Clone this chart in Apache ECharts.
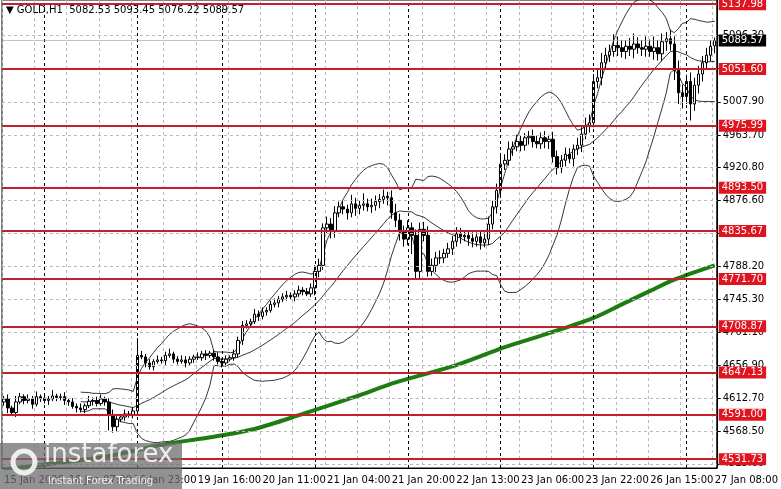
<!DOCTYPE html><html><head><meta charset="utf-8">
<script src="https://cdn.jsdelivr.net/npm/echarts@6/dist/echarts.min.js"></script>
<style>html,body{margin:0;padding:0;background:#fff}#c{width:781px;height:489px}</style></head><body><div id="c"></div><script>
const xLabels={0:'15 Jan 2026',16:'16 Jan 07:00',32:'16 Jan 23:00',48:'19 Jan 16:00',64:'20 Jan 11:00',80:'21 Jan 04:00',96:'21 Jan 20:00',112:'22 Jan 13:00',128:'23 Jan 06:00',144:'23 Jan 22:00',160:'26 Jan 15:00',176:'27 Jan 08:00'};
const closes=[4612,4600,4594,4608,4615,4610,4612,4605,4615,4613,
4610,4612,4616,4614,4615,4610,4608,4602,4600,4598,4603,4609,4610,4606,4612,4608,
4590,4575,4585,4588,4592,4590,4596,
4670,
4668,4660,4655,4662,4664,4663,4670,4672,4665,4662,4664,4660,4665,4668,4667,4672,4670,4673,4668,4662,
4660,4665,4667,4672,4690,4710,
4712,4715,4725,4722,4728,4730,4738,4740,4745,4748,
4750,4748,4752,4757,4755,4752,4760,
4782,4790,4840,4845,4835,4860,
4868,4865,4860,4872,4866,4870,4872,4868,4870,4875,4878,4882,4880,4860,
4850,4835,4825,4840,4830,4782,4838,
4830,4782,4790,4800,4800,4806,4812,
4822,4832,4828,4830,4826,4822,4828,4820,4825,4845,4868,4890,
4925,4930,4945,4948,4955,4950,4960,4962,4955,4952,4960,4955,4958,
4935,4920,4930,4938,4932,4945,4950,4965,4975,4980,
5035,
5040,5060,5070,5075,5083,5080,5075,5082,5078,5085,5080,5078,5082,5075,5080,5072,5088,5092,5085,
5050,5020,5015,5035,5005,5030,5045,5060,5070,5082,5089.57];
const firstOpen=4608;
const wickUp=[4,6,3,8,5,3,6,4,7,3,5,4,8,3,4,6,3,5,4,6,3,7,4,5,6,3,5,8,4,3,6,4,5,23,6,4,5,3,6,4,5,7,3,4,6,5,4,3,6,4,5,3,4,6,4,5,3,6,5,6,5,4,7,5,6,4,5,6,4,5,6,4,5,6,4,5,6,8,9,6,10,8,9,7,8,6,12,8,6,14,7,9,8,7,9,6,10,12,9,8,10,7,8,9,10,12,9,8,10,6,8,7,9,8,6,7,8,6,7,9,10,8,9,12,8,10,7,9,8,6,7,9,8,7,9,6,10,8,7,9,8,6,10,9,12,11,10,12,13,10,9,15,12,10,8,11,14,9,10,13,9,15,10,11,9,12,10,13,11,9,12,10,11,9,10,8,3.9];
const wickDn=[5,7,4,6,3,5,4,6,3,5,4,6,3,5,4,6,5,3,6,4,5,3,6,4,3,5,20,8,6,4,5,3,4,6,3,6,4,5,3,4,6,3,5,4,3,6,4,5,3,4,6,3,5,4,6,5,3,4,5,6,4,5,3,6,4,5,3,4,6,4,5,3,6,4,5,3,4,10,8,6,7,9,8,6,7,9,6,10,8,7,6,8,7,9,6,10,8,9,12,10,8,25,9,10,8,7,6,9,8,7,6,8,7,9,6,10,8,7,9,6,8,7,9,10,8,7,9,6,8,7,9,8,6,7,9,10,8,9,7,8,6,10,8,9,7,8,6,9,10,8,9,7,11,8,10,9,12,8,9,10,7,11,9,10,12,9,13,15,16,10,22,9,11,10,9,8,10,13.35];
const maPts=[[0,4518],[12,4526],[25,4535],[40,4552],[50,4560],[62,4572],[74,4592],[87,4615],[97,4634],[112,4657],[124,4681],[134,4698],[146,4720],[153,4738],[160,4756],[166,4771],[176,4790]];
const levels=[5137.98,5051.60,4975.99,4893.50,4835.67,4771.70,4708.87,4647.13,4591.00,4531.73];
const yTicks=[4525.60,4568.50,4612.70,4656.90,4701.10,4745.30,4788.20,4832.40,4876.60,4920.80,4963.70,5007.90,5052.10,5096.30];
const daySeps=[10,33,54,77,100,123,146,169];
const lastPrice=5089.57;

const cats=closes.map((_,i)=>i);
const ohlc=closes.map((c,i)=>{const o=i===0?firstOpen:(i===176?5082.53:closes[i-1]);return [o,c,Math.min(o,c)-wickDn[i],Math.max(o,c)+wickUp[i]];});
function bb(k){return closes.map((_,i)=>{if(i<19)return '-';const s=closes.slice(i-19,i+1);const m=s.reduce((a,b)=>a+b)/20;const sd=Math.sqrt(s.reduce((a,b)=>a+(b-m)*(b-m),0)/20);return +(m+k*sd).toFixed(2);});}
const chart=echarts.init(document.getElementById('c'),null,{renderer:'canvas'});
const lineS=(d)=>({type:'line',data:d,symbol:'none',lineStyle:{color:'#000',width:0.8},silent:true,z:2});
chart.setOption({animation:false,
grid:{left:2,right:46,top:0,bottom:21,show:true,borderColor:'#000',borderWidth:1},
xAxis:{type:'category',data:cats,boundaryGap:true,axisLine:{lineStyle:{color:'#000'}},axisTick:{show:false},
 axisLabel:{interval:(i)=>i%16===0,formatter:(v)=>xLabels[v]||'',align:'left',fontFamily:'DejaVu Sans',fontSize:10,color:'#000',margin:7},
 splitLine:{show:true,interval:(i)=>i%8===0,lineStyle:{color:'#bbb',type:[3,3],width:1}}},
yAxis:{type:'value',position:'right',min:4520,max:5143.6,axisLine:{show:true,lineStyle:{color:'#000'}},
 axisTick:{show:true,customValues:yTicks,length:4,lineStyle:{color:'#000'}},
 axisLabel:{customValues:yTicks,formatter:(v)=>v.toFixed(2),fontFamily:'DejaVu Sans',fontSize:10,color:'#000',margin:6},
 splitLine:{show:false}},
series:[
 {type:'line',data:[],markLine:{silent:true,symbol:'none',label:{show:false},lineStyle:{color:'#bbb',type:[3,3],width:1},data:yTicks.map(v=>({yAxis:v}))}},
 {type:'line',data:[],markLine:{silent:true,symbol:'none',label:{show:false},lineStyle:{color:'#000',type:[3,3],width:1},data:daySeps.map(v=>({xAxis:v}))}},
 lineS(bb(2)),lineS(bb(0)),lineS(bb(-2)),
 {type:'line',data:maPts,symbol:'none',smooth:0.3,lineStyle:{color:'#1e7d12',width:4},z:3},
 {type:'candlestick',data:ohlc,barWidth:3,z:4,itemStyle:{color:'#fff',color0:'#000',borderColor:'#000',borderColor0:'#000',borderWidth:1}},
 {type:'line',data:[],z:5,markLine:{silent:true,symbol:'none',lineStyle:{color:'#c3202a',type:'solid',width:2},
  label:{position:'end',formatter:(p)=>p.value.toFixed(2),backgroundColor:'#e0141e',color:'#fff',fontFamily:'DejaVu Sans',fontSize:10,padding:[1,3],distance:2},
  data:levels.map(v=>({yAxis:v}))}},
 {type:'line',data:[],z:6,markLine:{silent:true,symbol:'none',lineStyle:{color:'#999',width:0.6,type:'solid'},
  label:{position:'end',formatter:(p)=>p.value.toFixed(2),backgroundColor:'#000',color:'#fff',fontFamily:'DejaVu Sans',fontSize:10,padding:[1,3],distance:2},
  data:[{yAxis:lastPrice}]}}
],
graphic:[
 {type:'rect',left:0,top:443,shape:{width:182,height:46},style:{fill:'rgba(110,110,110,0.75)'},z:100},
 {type:'text',left:44,top:442,style:{text:'instaforex',fill:'rgba(255,255,255,0.85)',font:'26px "DejaVu Sans"'},z:101},
 {type:'circle',shape:{cx:24,cy:462,r:11},style:{fill:'none',stroke:'rgba(255,255,255,0.85)',lineWidth:5},z:101},
 {type:'text',left:48,top:476,style:{text:'Instant Forex Trading',fill:'rgba(255,255,255,0.85)',font:'10px "DejaVu Sans"'},z:101},
 {type:'text',left:6,top:5,style:{text:'▼ GOLD,H1  5082.53 5093.45 5076.22 5089.57',fill:'#000',font:'10px "DejaVu Sans"'},z:102}
]});
</script></body></html>
